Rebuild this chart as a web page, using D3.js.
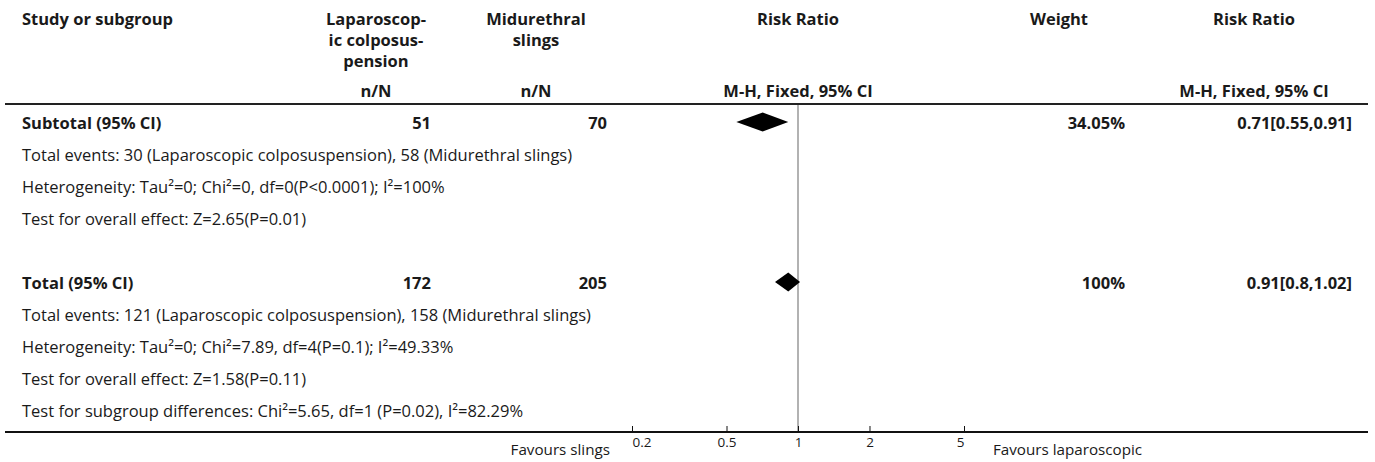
<!DOCTYPE html>
<html>
<head>
<meta charset="utf-8">
<script src="https://cdn.jsdelivr.net/npm/d3@7"></script>
<style>
  html, body { margin: 0; padding: 0; background: #fff; }
  svg { display: block; }
  text { font-family: "Open Sans", "Noto Sans", sans-serif; fill: #1a1a1a; }
</style>
</head>
<body>
<svg id="chart" width="1375" height="462"></svg>
<script>
// Pooled estimates (Mantel-Haenszel fixed effect risk ratios)
const summaryLabels = ["Subtotal (95% CI)", "Total (95% CI)"];
const totalsLap = [51, 172];
const totalsSling = [70, 205];
const weights = ["34.05%", "100%"];
const riskRatio = [0.71, 0.91];
const ciLow = [0.55, 0.8];
const ciHigh = [0.91, 1.02];

// Footnote lines under each pooled estimate
const subtotalNotes = [
  "Total events: 30 (Laparoscopic colposuspension), 58 (Midurethral slings)",
  "Heterogeneity: Tau\u00b2=0; Chi\u00b2=0, df=0(P<0.0001); I\u00b2=100%",
  "Test for overall effect: Z=2.65(P=0.01)"
];
const totalNotes = [
  "Total events: 121 (Laparoscopic colposuspension), 158 (Midurethral slings)",
  "Heterogeneity: Tau\u00b2=0; Chi\u00b2=7.89, df=4(P=0.1); I\u00b2=49.33%",
  "Test for overall effect: Z=1.58(P=0.11)",
  "Test for subgroup differences: Chi\u00b2=5.65, df=1 (P=0.02), I\u00b2=82.29%"
];

// Axis
const tickValues = [0.2, 0.5, 1, 2, 5];
const favoursLeft = "Favours slings";
const favoursRight = "Favours laparoscopic";

const svg = d3.select("#chart");
const x = d3.scaleLog().domain([0.2, 5]).range([632, 964]);

const col = { label: 22, lapCenter: 376, lapRight: 431, slingCenter: 536, slingRight: 607,
              rrCenter: 798, weightCenter: 1059, weightRight: 1125, ciCenter: 1254, ciRight: 1352 };
const topLine = 104, bottomLine = 432;
const fs = 16.5;

// Header
const head = svg.append("g").attr("font-weight", "bold").attr("font-size", fs);
head.append("text").attr("x", col.label).attr("y", 25).text("Study or subgroup");
[["Laparoscop-", 25], ["ic colposus-", 46], ["pension", 67]].forEach(([t, y]) =>
  head.append("text").attr("x", col.lapCenter).attr("y", y).attr("text-anchor", "middle").text(t));
[["Midurethral", 25], ["slings", 46]].forEach(([t, y]) =>
  head.append("text").attr("x", col.slingCenter).attr("y", y).attr("text-anchor", "middle").text(t));
head.append("text").attr("x", col.rrCenter).attr("y", 25).attr("text-anchor", "middle").text("Risk Ratio");
head.append("text").attr("x", col.weightCenter).attr("y", 25).attr("text-anchor", "middle").text("Weight");
head.append("text").attr("x", col.ciCenter).attr("y", 25).attr("text-anchor", "middle").text("Risk Ratio");
head.append("text").attr("x", col.lapCenter).attr("y", 97).attr("text-anchor", "middle").text("n/N");
head.append("text").attr("x", col.slingCenter).attr("y", 97).attr("text-anchor", "middle").text("n/N");
head.append("text").attr("x", col.rrCenter).attr("y", 97).attr("text-anchor", "middle").text("M-H, Fixed, 95% CI");
head.append("text").attr("x", col.ciCenter).attr("y", 97).attr("text-anchor", "middle").text("M-H, Fixed, 95% CI");

// Line of no effect
svg.append("line")
  .attr("x1", x(1)).attr("x2", x(1)).attr("y1", topLine).attr("y2", bottomLine)
  .attr("stroke", "#999").attr("stroke-width", 1.5);

// Rules
svg.append("line").attr("x1", 5).attr("x2", 1368).attr("y1", topLine).attr("y2", topLine)
  .attr("stroke", "#222").attr("stroke-width", 2);

// Pooled rows
const rowY = [123, 283];
const noteSets = [subtotalNotes, totalNotes];
const rowStep = 32;
const base = 6;

summaryLabels.forEach((lab, i) => {
  const y = rowY[i];
  const g = svg.append("g").attr("font-size", fs);
  const b = g.append("g").attr("font-weight", "bold");
  b.append("text").attr("x", col.label).attr("y", y + base).text(lab);
  b.append("text").attr("x", col.lapRight).attr("y", y + base).attr("text-anchor", "end").text(totalsLap[i]);
  b.append("text").attr("x", col.slingRight).attr("y", y + base).attr("text-anchor", "end").text(totalsSling[i]);
  b.append("text").attr("x", col.weightRight).attr("y", y + base).attr("text-anchor", "end").text(weights[i]);
  b.append("text").attr("x", col.ciRight).attr("y", y + base).attr("text-anchor", "end")
    .text(`${riskRatio[i]}[${ciLow[i]},${ciHigh[i]}]`);

  const cy = y - 1, h = 9.5;
  const pts = [[x(ciLow[i]), cy], [x(riskRatio[i]), cy - h], [x(ciHigh[i]), cy], [x(riskRatio[i]), cy + h]];
  svg.append("path").attr("d", "M" + pts.map(p => p.join(",")).join("L") + "Z").attr("fill", "#000");

  noteSets[i].forEach((t, j) => {
    g.append("text").attr("x", col.label).attr("y", y + rowStep * (j + 1) + base).text(t);
  });
});

// Bottom rule and axis
svg.append("line").attr("x1", 5).attr("x2", 1368).attr("y1", bottomLine).attr("y2", bottomLine)
  .attr("stroke", "#111").attr("stroke-width", 2);

const axis = svg.append("g").attr("transform", `translate(0,${bottomLine})`)
  .call(d3.axisBottom(x).tickValues(tickValues).tickFormat(d3.format("")).tickSizeInner(-6).tickSizeOuter(0));
axis.select(".domain").remove();
axis.selectAll(".tick line").attr("stroke", "#111");
axis.selectAll(".tick text").attr("font-size", 13.5).attr("fill", "#333")
  .attr("font-family", "'Open Sans', sans-serif").attr("y", 15).attr("dy", null);
axis.selectAll(".tick text").filter(d => d === tickValues[0]).attr("text-anchor", "start");
axis.selectAll(".tick text").filter(d => d === tickValues[tickValues.length - 1]).attr("text-anchor", "end");

svg.append("text").attr("x", 610).attr("y", 455).attr("text-anchor", "end").attr("font-size", 15.2).text(favoursLeft);
svg.append("text").attr("x", 993).attr("y", 455).attr("font-size", 15.2).text(favoursRight);
</script>
</body>
</html>
